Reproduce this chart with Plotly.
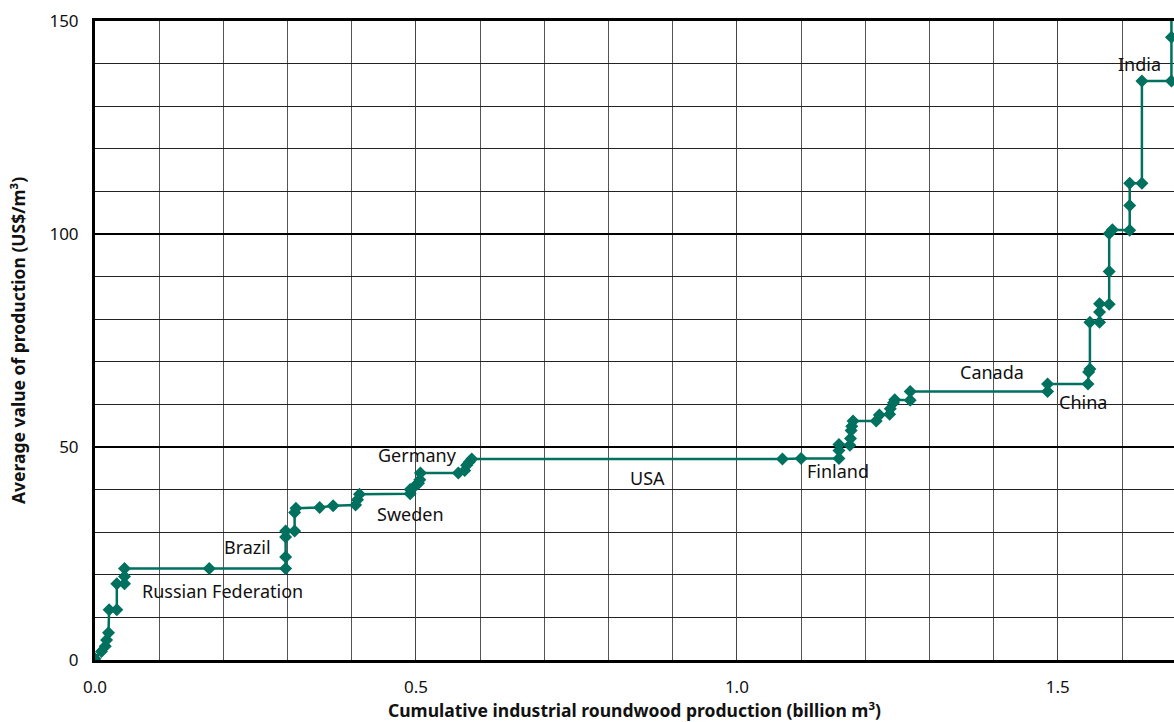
import plotly.graph_objects as go

# Step curve: cumulative production (billion m3) vs average value (US$/m3)
cum_prod = [0.000, 0.010, 0.016, 0.018, 0.021, 0.022, 0.034, 0.034, 0.046, 0.046,
            0.046, 0.178, 0.297, 0.297, 0.297, 0.297, 0.311, 0.311, 0.313, 0.350,
            0.371, 0.406, 0.409, 0.412, 0.491, 0.491, 0.498, 0.504, 0.506, 0.507,
            0.566, 0.576, 0.579, 0.583, 0.587, 1.071, 1.100, 1.159, 1.159, 1.159,
            1.176, 1.177, 1.178, 1.179, 1.181, 1.217, 1.222, 1.238, 1.239, 1.244,
            1.246, 1.270, 1.270, 1.484, 1.484, 1.547, 1.548, 1.550, 1.550, 1.565,
            1.565, 1.565, 1.580, 1.580, 1.580, 1.585, 1.612, 1.612, 1.612, 1.631,
            1.631, 1.677, 1.677, 1.677]
avg_value = [0.3, 2.0, 3.2, 4.7, 6.4, 11.8, 11.8, 17.9, 17.9, 19.6,
             21.5, 21.5, 21.5, 24.2, 28.9, 30.3, 30.3, 34.6, 35.6, 35.8,
             36.2, 36.4, 37.6, 38.9, 39.0, 40.0, 40.8, 41.5, 42.3, 43.9,
             43.9, 44.5, 45.7, 46.5, 47.2, 47.2, 47.3, 47.3, 49.2, 50.6,
             50.4, 52.0, 53.9, 54.9, 56.1, 56.1, 57.5, 57.7, 59.0, 60.4,
             61.1, 61.0, 63.0, 63.0, 64.8, 64.8, 67.6, 68.3, 79.3, 79.3,
             81.7, 83.6, 83.5, 91.2, 100.1, 101.0, 100.9, 106.7, 111.9, 111.9,
             135.9, 135.9, 146.2, 158.0]

# Country labels
label_text = ["Russian Federation", "Brazil", "Sweden", "Germany", "USA",
              "Finland", "Canada", "China", "India"]
label_x = [0.198, 0.238, 0.491, 0.503, 0.860, 1.157, 1.397, 1.539, 1.628]
label_y = [16.2, 26.5, 34.2, 48.1, 42.7, 44.3, 67.5, 60.5, 139.8]

x_ticks = [0.0, 0.5, 1.0, 1.5]
x_tick_text = ["0.0", "0.5", "1.0", "1.5"]
y_ticks = [0, 50, 100, 150]

COLOR = "#00705f"
FONT = "Noto Sans"

fig = go.Figure()
fig.add_trace(go.Scatter(
    x=cum_prod, y=avg_value, mode="lines+markers",
    line=dict(color=COLOR, width=2.5),
    marker=dict(symbol="diamond", size=10, color=COLOR),
    cliponaxis=True, showlegend=False,
))

for t, x, y in zip(label_text, label_x, label_y):
    fig.add_annotation(x=x, y=y, text=t, showarrow=False,
                       font=dict(family=FONT, size=18, color="#111"))

fig.update_layout(
    width=1174, height=722,
    margin=dict(l=95, r=0, t=21, b=62),
    paper_bgcolor="white", plot_bgcolor="white",
    font=dict(family=FONT, size=17, color="#111"),
    xaxis=dict(
        range=[0, 1.681], tickvals=x_ticks, ticktext=x_tick_text,
        automargin=False,
        showgrid=True, gridcolor="#444", gridwidth=1,
        minor=dict(dtick=0.1, tick0=0, showgrid=True, gridcolor="#555", gridwidth=1),
        showline=True, linecolor="black", linewidth=3, mirror=True,
        zeroline=False, ticks="", ticklabelstandoff=10,
        title=dict(text="<b>Cumulative industrial roundwood production (billion m³)</b>",
                   font=dict(size=17.5), standoff=15),
    ),
    yaxis=dict(
        range=[0, 150], tickvals=y_ticks,
        automargin=False,
        showgrid=True, gridcolor="black", gridwidth=2,
        minor=dict(dtick=10, tick0=0, showgrid=True, gridcolor="#222", gridwidth=1),
        showline=True, linecolor="black", linewidth=3,
        zeroline=False, ticks="", ticklabelstandoff=10,
        title=dict(text="<b>Average value of production (US$/m³)</b>",
                   font=dict(size=17.5), standoff=20),
    ),
)

fig.write_html(
    "out.html",
    config={"displayModeBar": False},
    post_script="document.body.style.margin='0'; document.body.style.overflow='hidden';",
)
